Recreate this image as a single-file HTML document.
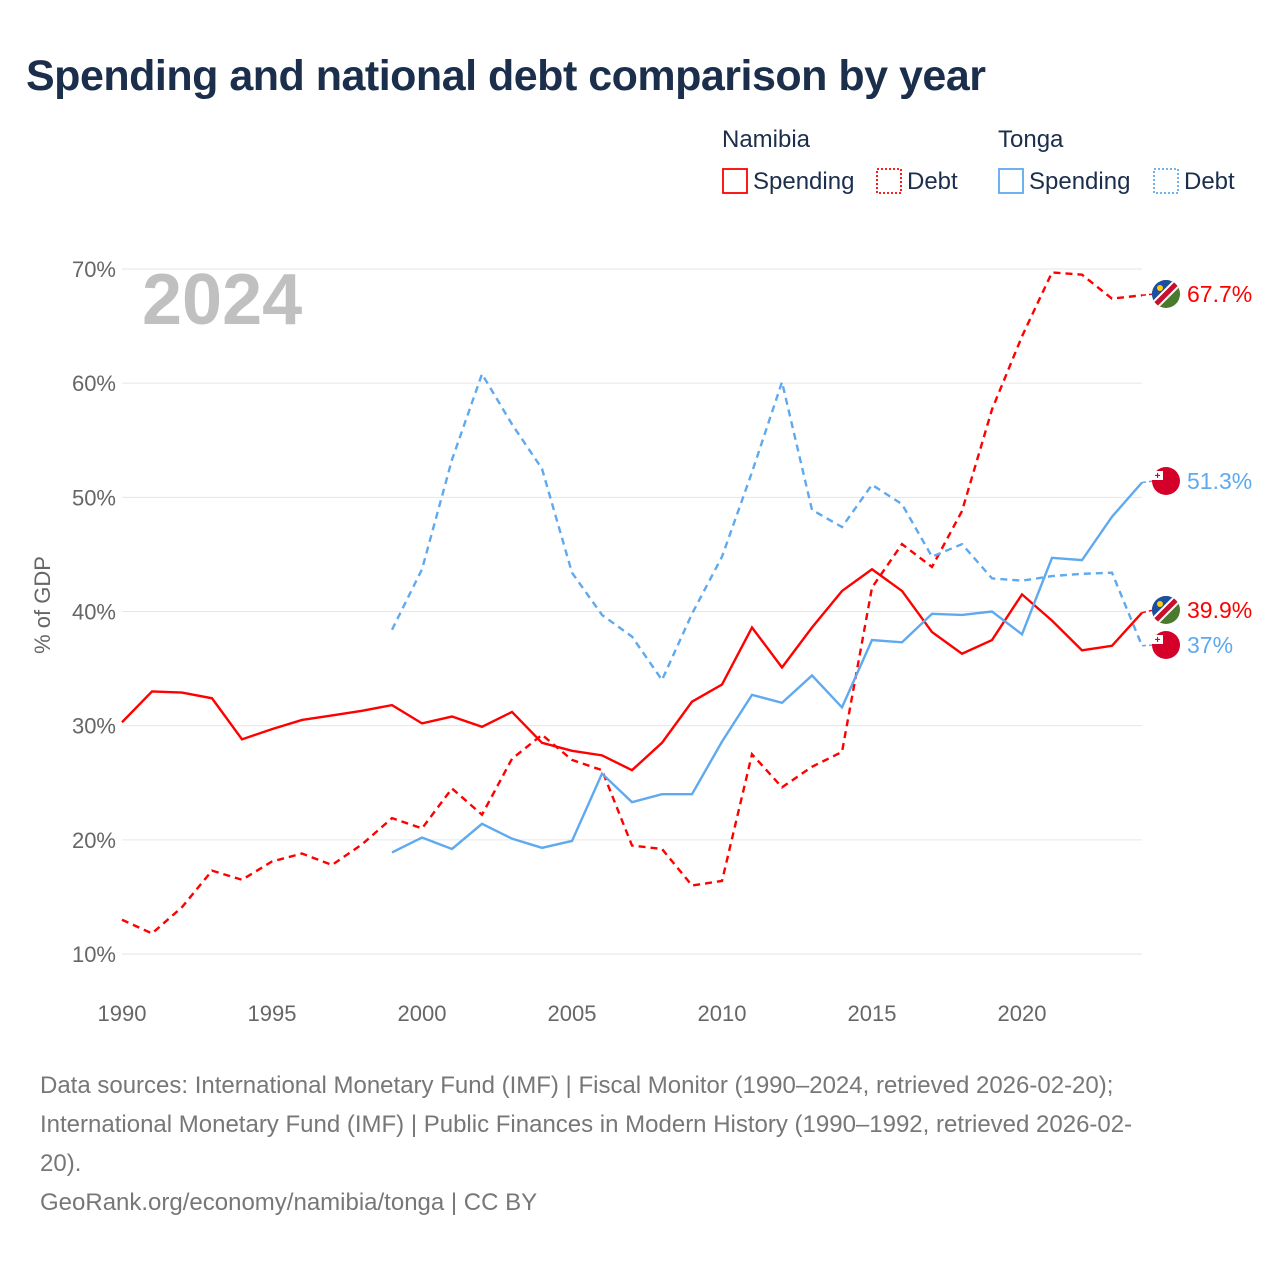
<!DOCTYPE html>
<html><head><meta charset="utf-8">
<style>
body{margin:0;background:#fff;font-family:"Liberation Sans","DejaVu Sans",sans-serif;}
#wrap{position:relative;width:1280px;height:1280px;overflow:hidden;}
h1{position:absolute;left:26px;top:52px;margin:0;font-size:43px;font-weight:bold;color:#1b2e4b;letter-spacing:-0.5px;}
.src{position:absolute;left:40px;font-size:24px;color:#777;line-height:39px;}
</style></head><body>
<div id="wrap">
<h1>Spending and national debt comparison by year</h1>
<svg id="chart" width="1280" height="1280" style="position:absolute;left:0;top:0"></svg>
<div class="src" style="top:1066px">Data sources: International Monetary Fund (IMF) | Fiscal Monitor (1990–2024, retrieved 2026-02-20);<br>International Monetary Fund (IMF) | Public Finances in Modern History (1990–1992, retrieved 2026-02-<br>20).<br>GeoRank.org/economy/namibia/tonga | CC BY</div>
</div>
<script>
const yearsNam = [];for(let y=1990;y<=2024;y++)yearsNam.push(y);
const yearsTon = [];for(let y=1999;y<=2024;y++)yearsTon.push(y);
const namSpending=[30.3,33.0,32.9,32.4,28.8,29.7,30.5,30.9,31.3,31.8,30.2,30.8,29.9,31.2,28.5,27.8,27.4,26.1,28.5,32.1,33.6,38.6,35.1,38.6,41.8,43.7,41.8,38.2,36.3,37.5,41.5,39.2,36.6,37.0,39.9];
const namDebt=[13.0,11.8,14.1,17.3,16.5,18.1,18.8,17.8,19.6,21.9,21.0,24.5,22.2,27.1,29.2,27.0,26.1,19.5,19.2,16.0,16.4,27.5,24.6,26.4,27.7,42.1,45.9,43.9,48.8,57.7,64.1,69.7,69.5,67.4,67.7];
const tonSpending=[18.9,20.2,19.2,21.4,20.1,19.3,19.9,25.8,23.3,24.0,24.0,28.6,32.7,32.0,34.4,31.6,37.5,37.3,39.8,39.7,40.0,38.0,44.7,44.5,48.3,51.3];
const tonDebt=[38.4,43.7,53.3,60.8,56.4,52.5,43.4,39.7,37.8,34.0,39.8,44.8,52.2,60.1,48.9,47.4,51.1,49.4,44.8,45.9,42.9,42.7,43.1,43.3,43.4,37.0];
const yTicks=[10,20,30,40,50,60,70];
const xTicks=[1990,1995,2000,2005,2010,2015,2020];
const RED="#ff0000",BLUE="#5ea9ef";
const X=y=>122+(y-1990)*30;
const Y=v=>954-(v-10)*(685/60);
const svg=document.getElementById('chart');const NS="http://www.w3.org/2000/svg";
function el(t,a,txt){const e=document.createElementNS(NS,t);for(const k in a)e.setAttribute(k,a[k]);if(txt!=null)e.textContent=txt;svg.appendChild(e);return e;}
yTicks.forEach(v=>{
 const g=el('line',{x1:122,x2:1142,y1:Y(v),y2:Y(v),stroke:'#e6e6e6','stroke-width':1});
 
 
 const t=el('text',{x:116,y:Y(v)+8,'text-anchor':'end','font-size':22,fill:'#666'},v+'%');
 
 
});
xTicks.forEach(v=>{
 const t=el('text',{x:X(v),y:1021,'text-anchor':'middle','font-size':22,fill:'#666'},v);
 
 
});
const yt=el('text',{x:0,y:0,transform:'translate(50,605) rotate(-90)','text-anchor':'middle','font-size':22,fill:'#666'},'% of GDP');


const yr=el('text',{x:142,y:324,'font-size':72,'font-weight':'bold',fill:'#c0c0c0'},'2024');


function series(xs,vs,color,dash,name){
 const d=vs.map((v,i)=>(i?'L':'M')+X(xs[i])+','+Y(v)).join(' ');
 const p=el('path',{d:d,fill:'none',stroke:color,'stroke-width':2.4,'stroke-dasharray':dash||'none'});
 
 
}
series(yearsNam,namDebt,RED,'7,5','namibia-debt-line');
series(yearsTon,tonDebt,BLUE,'7,5','tonga-debt-line');
series(yearsNam,namSpending,RED,null,'namibia-spending-line');
series(yearsTon,tonSpending,BLUE,null,'tonga-spending-line');
function flag(cy,nam){
 const cx=1166;
 if(nam){
  el('clipPath',{id:'c'+cy}).appendChild(document.createElementNS(NS,'circle'));
  const c=svg.lastChild.firstChild;c.setAttribute('cx',cx);c.setAttribute('cy',cy);c.setAttribute('r',14);
  el('rect',{x:cx-14,y:cy-14,width:28,height:28,fill:'#4a7a2e','clip-path':'url(#c'+cy+')'});
  el('polygon',{points:`${cx-14},${cy-14} ${cx+14},${cy-14} ${cx-14},${cy+14}`,fill:'#1c4fa0','clip-path':'url(#c'+cy+')'});
  el('line',{x1:cx-14,y1:cy+14,x2:cx+14,y2:cy-14,stroke:'#fff','stroke-width':9,'clip-path':'url(#c'+cy+')'});
  el('line',{x1:cx-14,y1:cy+14,x2:cx+14,y2:cy-14,stroke:'#c8102e','stroke-width':5,'clip-path':'url(#c'+cy+')'});
  el('circle',{cx:cx-6,cy:cy-6,r:3,fill:'#ffce00'});
 }else{
  el('circle',{cx:cx,cy:cy,r:14,fill:'#d4002a'});
  el('rect',{x:cx-14,y:cy-10,width:11,height:9,fill:'#fff'});
  el('text',{x:cx-8.5,y:cy-2,'text-anchor':'middle','font-size':10,fill:'#d4002a','font-weight':'bold'},'+');
 }
}
function endLabel(v,lblY,color,txt,nam,name){
 el('line',{x1:1142,x2:1154,y1:Y(v),y2:lblY,stroke:color,'stroke-width':1.5,'stroke-dasharray':'4,3'});
 flag(lblY,nam);
 const t=el('text',{x:1187,y:lblY+8,'font-size':23,fill:color},txt);
 
 
}
endLabel(namDebt[namDebt.length-1],294,RED,'67.7%',true,'namibia-debt-end-label');
endLabel(tonSpending[tonSpending.length-1],481,BLUE,'51.3%',false,'tonga-spending-end-label');
endLabel(namSpending[namSpending.length-1],610,RED,'39.9%',true,'namibia-spending-end-label');
endLabel(tonDebt[tonDebt.length-1],645,BLUE,'37%',false,'tonga-debt-end-label');
// legend
function lg(x,t,color,dashed,name){
 const r=el('rect',{x:x,y:169,width:24,height:24,fill:'none',stroke:color,'stroke-width':1.8,'stroke-dasharray':dashed?'2,2':'none'});
 
 
 const tt=el('text',{x:x+30,y:189,'font-size':24,fill:'#1b2e4b'},t);
 
 
}
const h1=el('text',{x:722,y:147,'font-size':24,fill:'#1b2e4b'},'Namibia');


const h2=el('text',{x:998,y:147,'font-size':24,fill:'#1b2e4b'},'Tonga');


lg(723,'Spending',RED,false,'legend-namibia-spending');
lg(877,'Debt',RED,true,'legend-namibia-debt');
lg(999,'Spending',BLUE,false,'legend-tonga-spending');
lg(1154,'Debt',BLUE,true,'legend-tonga-debt');
</script>
</body></html>
